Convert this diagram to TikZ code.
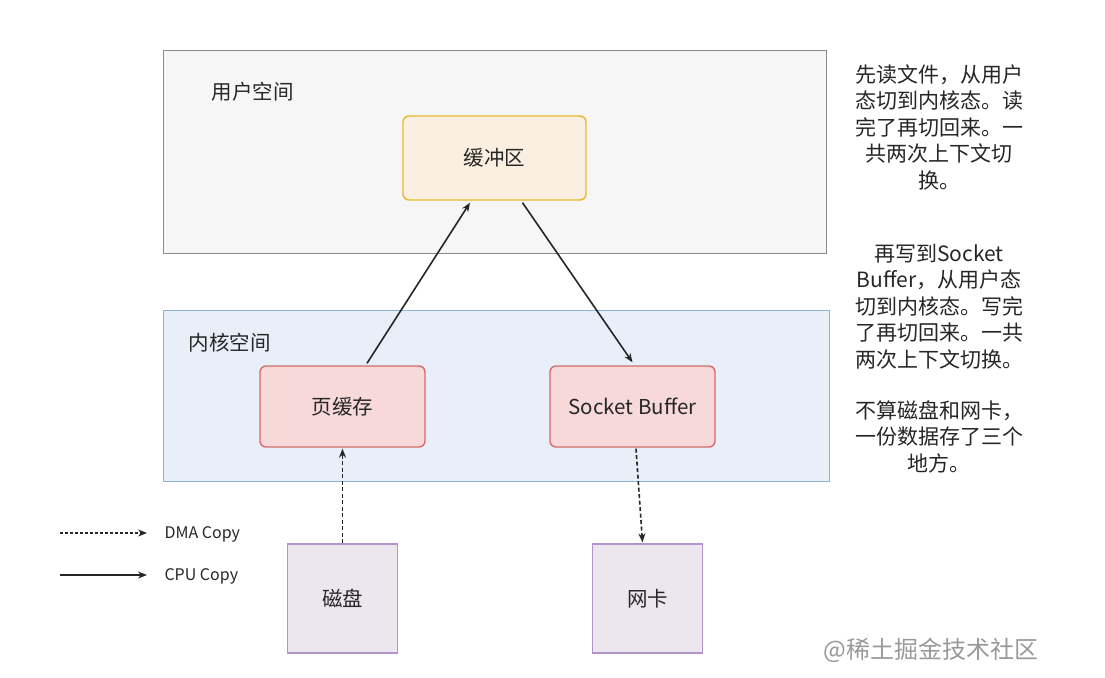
\documentclass[tikz,border=0pt]{standalone}
\usepackage{fontspec}
\setmainfont{Noto Sans CJK SC}
\usetikzlibrary{arrows.meta,positioning,calc}
\definecolor{UserLine}{HTML}{8A8A8A}
\definecolor{UserFill}{HTML}{F6F6F6}
\definecolor{BufLine}{HTML}{E8B830}
\definecolor{BufFill}{HTML}{FBEFE2}
\definecolor{KernLine}{HTML}{8EB2DD}
\definecolor{KernFill}{HTML}{E8EFF8}
\definecolor{CacheLine}{HTML}{D86A6A}
\definecolor{CacheFill}{HTML}{F7D9D9}
\definecolor{DevLine}{HTML}{B493CC}
\definecolor{DevFill}{HTML}{ECE7EF}

\begin{document}
\begin{tikzpicture}[x=1pt,y=-1pt,font=\fontsize{20.5}{24}\selectfont,color=black!85,
  area/.style={line width=1.3pt,anchor=north west,inner sep=0pt},
  box/.style={rounded corners=6pt,line width=1.4pt,minimum width=165pt,minimum height=81pt,draw=CacheLine,fill=CacheFill},
  dev/.style={line width=1.3pt,minimum width=110pt,minimum height=109pt,draw=DevLine,fill=DevFill},
  cpu/.style={-{Stealth[length=9pt,width=7pt]},line width=1.6pt,black!85},
  dma/.style={cpu,dash pattern=on 4pt off 2.5pt},
  note/.style={align=center,font=\fontsize{21}{26.5}\selectfont}]
  \useasboundingbox (0,0) rectangle (1105,677);
  % user space
  \node[area,draw=UserLine,fill=UserFill,minimum width=663pt,minimum height=203pt] (user) at (163,50) {};
  \node[anchor=west] (userlbl) at (208,92) {用户空间};
  \node[box,draw=BufLine,fill=BufFill,minimum width=183pt,minimum height=84pt] (buf) at (494.5,158) {缓冲区};
  % kernel space
  \node[area,draw=KernLine,fill=KernFill,minimum width=666pt,minimum height=171pt] (kernel) at (163,310) {};
  \node[anchor=west] (kernlbl) at (185,343) {内核空间};
  \node[box] (page) at (342.5,406.5) {页缓存};
  \node[box] (sock) at (632.5,406.5) {Socket Buffer};
  % devices
  \node[dev] (disk) at (342.5,598.5) {磁盘};
  \node[dev] (nic) at (647.5,598.5) {网卡};
  % copies
  \draw[cpu] ($(page.north)+(24.5,-2)$) -- ($(buf.south)+(-24.5,2)$);
  \draw[cpu] ($(buf.south)+(28,2)$) -- ($(sock.north)+(0,-3)$);
  \draw[dma] (disk.north) -- ($(page.south)+(0,1)$);
  \draw[dma] ($(sock.south)+(3.5,1)$) -- ($(nic.north)+(-5,-1)$);
  % legend
  \coordinate (dmaL) at (60,533);
  \coordinate (dmaR) at (147,533);
  \coordinate (cpuL) at (60,575);
  \coordinate (cpuR) at (147,575);
  \draw[dma,line width=1.2pt,dash pattern=on 3pt off 2pt] (dmaL) -- (dmaR);
  \draw[cpu,line width=1.2pt] (cpuL) -- (cpuR);
  \node[anchor=west,font=\fontsize{16}{18}\selectfont] (dmatxt) at (161,534) {DMA Copy};
  \node[anchor=west,font=\fontsize{16}{18}\selectfont] (cputxt) at (161,576) {CPU Copy};
  % notes
  \node[note] (note1) at (939,127) {先读文件，从用户\\态切到内核态。读\\完了再切回来。一\\共两次上下文切\\换。};
  \node[note] (note2) at (939,306.5) {再写到Socket\\Buffer，从用户态\\切到内核态。写完\\了再切回来。一共\\两次上下文切换。};
  \node[note] (note3) at (939,436.5) {不算磁盘和网卡，\\一份数据存了三个\\地方。};
  \node[anchor=west,text=black!40,font=\fontsize{24}{28}\selectfont] (mark) at (820,650) {@稀土掘金技术社区};
\end{tikzpicture}
\end{document}
